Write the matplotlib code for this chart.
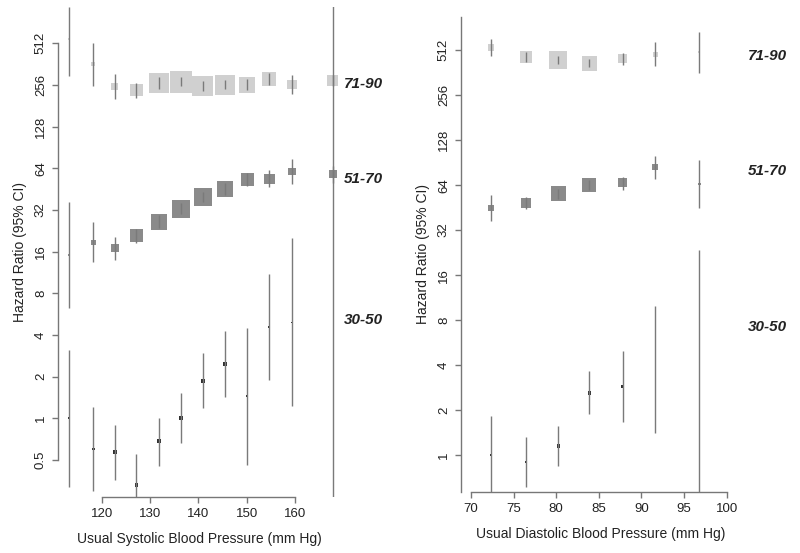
import matplotlib
matplotlib.use("Agg")
import matplotlib.pyplot as plt
import numpy as np

plt.rcParams['font.family'] = ['Liberation Sans', 'DejaVu Sans']

groups = ["71-90", "51-70", "30-50"]

# systolic panel
sbp = [113.2, 118.3, 122.75, 127.2, 131.9, 136.4, 140.9, 145.5, 150.1, 154.7, 159.4, 167.8]

sbp_est_old = [549, 363, 249, 235, 263, 270, 252, 256, 256, 283, 259, 274]
sbp_lo_old = [299, 253, 202, 207, 240, 252, 232, 238, 236, 254, 219, 250]
sbp_hi_old = [940, 512, 306, 266, 290, 290, 274, 278, 284, 313, 302, 300]
sbp_w_old = [2, 4, 7, 12.7, 20, 22, 20.7, 20.3, 16.3, 14, 9.3, 10.7]

sbp_est_mid = [15.1, 18.7, 16.9, 20.8, 26.3, 32.4, 39.9, 45.3, 53.3, 53.5, 60.4, 58]
sbp_lo_mid = [6.3, 13.4, 13.9, 18.5, 23.6, 29.8, 36.8, 41, 48, 46.5, 49.3, 50]
sbp_hi_mid = [36.3, 26.3, 20.3, 23.2, 29.4, 35.8, 43.4, 50, 59, 62, 74.3, 67]
sbp_w_mid = [2, 5, 8, 13, 16, 18, 17.7, 16, 13.3, 10.7, 7.3, 8]

sbp_est_young = [1.0, 0.60, 0.57, 0.33, 0.68, 1.0, 1.87, 2.47, 1.45, 4.6, 4.94, 3.0]
sbp_lo_young = [0.32, 0.30, 0.36, 0.25, 0.45, 0.66, 1.19, 1.43, 0.46, 1.89, 1.23, 0.1]
sbp_hi_young = [3.1, 1.2, 0.9, 0.55, 1.0, 1.52, 2.95, 4.28, 4.5, 11, 20, 2000]
sbp_w_young = [2, 2.5, 3.5, 3.5, 4, 4, 4, 3.5, 2, 2, 1.5, 0]

# diastolic panel
dbp = [72.31, 76.45, 80.24, 83.88, 87.8, 91.63, 96.79]

dbp_est_old = [535, 463, 440, 418, 449, 481, 495]
dbp_lo_old = [468, 430, 413, 393, 407, 401, 362]
dbp_hi_old = [605, 500, 466, 445, 492, 580, 676]
dbp_w_old = [6.3, 12.3, 18, 15, 9, 5, 2]

dbp_est_mid = [45, 48.6, 56.2, 64, 66.3, 84, 64.9]
dbp_lo_mid = [36.8, 44.6, 52, 59, 59.2, 70, 45.3]
dbp_hi_mid = [54.8, 53, 60, 69, 72.6, 100, 94]
dbp_w_mid = [6, 10, 15.3, 14, 9, 6, 2.5]

dbp_est_young = [1.0, 0.90, 1.15, 2.6, 2.87, 3.72, 3.35]
dbp_lo_young = [0.4, 0.61, 0.85, 1.88, 1.67, 1.40, 0.4]
dbp_hi_young = [1.81, 1.31, 1.56, 3.62, 4.93, 9.9, 23.4]
dbp_w_young = [1.5, 2.5, 3.5, 3.5, 2.5, 1.5, 1]

sbp_yticks = [0.5, 1, 2, 4, 8, 16, 32, 64, 128, 256, 512]
dbp_yticks = [1, 2, 4, 8, 16, 32, 64, 128, 256, 512]

box_cols = ['#d0d0d0', '#8a8a8a', '#303030']
line_col = '#7a7a7a'
axis_col = '#777777'
txt_col = '#222222'

W, H = 800, 553
fig = plt.figure(figsize=(8, 5.53), dpi=100)


def px_axes(l, r, t, b):
    return fig.add_axes([l / W, (H - b) / H, (r - l) / W, (b - t) / H])


def draw_group(ax, x, est, lo, hi, w, col):
    ax.scatter(x, est, marker='s', s=(np.array(w) * 0.72) ** 2, c=col,
               edgecolors='none', zorder=2)
    ax.vlines(x, lo, hi, colors=line_col, lw=1.0, zorder=3)


def style_axes(ax, xlim, ylim, xt, yt, ybounds, xlabel):
    ax.set_yscale('log', base=2)
    ax.set_xticks(xt)
    ax.set_xticklabels([str(v) for v in xt])
    ax.set_yticks(yt)
    ax.set_yticklabels(['%g' % v for v in yt], rotation=90, va='center')
    ax.minorticks_off()
    ax.set_xlim(*xlim)
    ax.set_ylim(*ylim)
    for s in ['top', 'right']:
        ax.spines[s].set_visible(False)
    for s in ['left', 'bottom']:
        ax.spines[s].set_color(axis_col)
        ax.spines[s].set_linewidth(1.0)
    ax.spines['bottom'].set_bounds(xt[0], xt[-1])
    if ybounds is not None:
        ax.spines['left'].set_bounds(*ybounds)
    ax.tick_params(axis='both', length=4, width=1.0, color=axis_col,
                   labelsize=9.5, labelcolor=txt_col, direction='out')
    ax.tick_params(axis='x', pad=4)
    ax.tick_params(axis='y', pad=4)
    ax.set_xlabel(xlabel, fontsize=10, color=txt_col, labelpad=9)
    ax.set_ylabel("Hazard Ratio (95% CI)", fontsize=10, color=txt_col, labelpad=6)
    ax.patch.set_visible(False)


# left panel
ax1 = px_axes(58, 340, 7, 496.7)
draw_group(ax1, sbp, sbp_est_old, sbp_lo_old, sbp_hi_old, sbp_w_old, box_cols[0])
draw_group(ax1, sbp, sbp_est_mid, sbp_lo_mid, sbp_hi_mid, sbp_w_mid, box_cols[1])
draw_group(ax1, sbp, sbp_est_young, sbp_lo_young, sbp_hi_young, sbp_w_young, box_cols[2])
style_axes(ax1, (110.96, 169.31), (2 ** -1.8815, 2 ** 9.87), [120, 130, 140, 150, 160],
           sbp_yticks, (0.5, 512), "Usual Systolic Blood Pressure (mm Hg)")
for g, yv in zip(groups, [260, 53.6, 5.13]):
    ax1.text(1.082, yv, g, transform=ax1.get_yaxis_transform(), ha='center', va='center',
             fontsize=11, fontweight='bold', style='italic', color=txt_col, clip_on=False)

# right panel
ax2 = px_axes(461, 740, 17, 491.7)
draw_group(ax2, dbp, dbp_est_old, dbp_lo_old, dbp_hi_old, dbp_w_old, box_cols[0])
draw_group(ax2, dbp, dbp_est_mid, dbp_lo_mid, dbp_hi_mid, dbp_w_mid, box_cols[1])
draw_group(ax2, dbp, dbp_est_young, dbp_lo_young, dbp_hi_young, dbp_w_young, box_cols[2])
style_axes(ax2, (68.827, 101.56), (2 ** -0.817, 2 ** 9.739), [70, 75, 80, 85, 90, 95, 100],
           dbp_yticks, None, "Usual Diastolic Blood Pressure (mm Hg)")
for g, yv in zip(groups, [471, 79.8, 7.17]):
    ax2.text(1.10, yv, g, transform=ax2.get_yaxis_transform(), ha='center', va='center',
             fontsize=11, fontweight='bold', style='italic', color=txt_col, clip_on=False)

fig.savefig("out.png", dpi=100)
